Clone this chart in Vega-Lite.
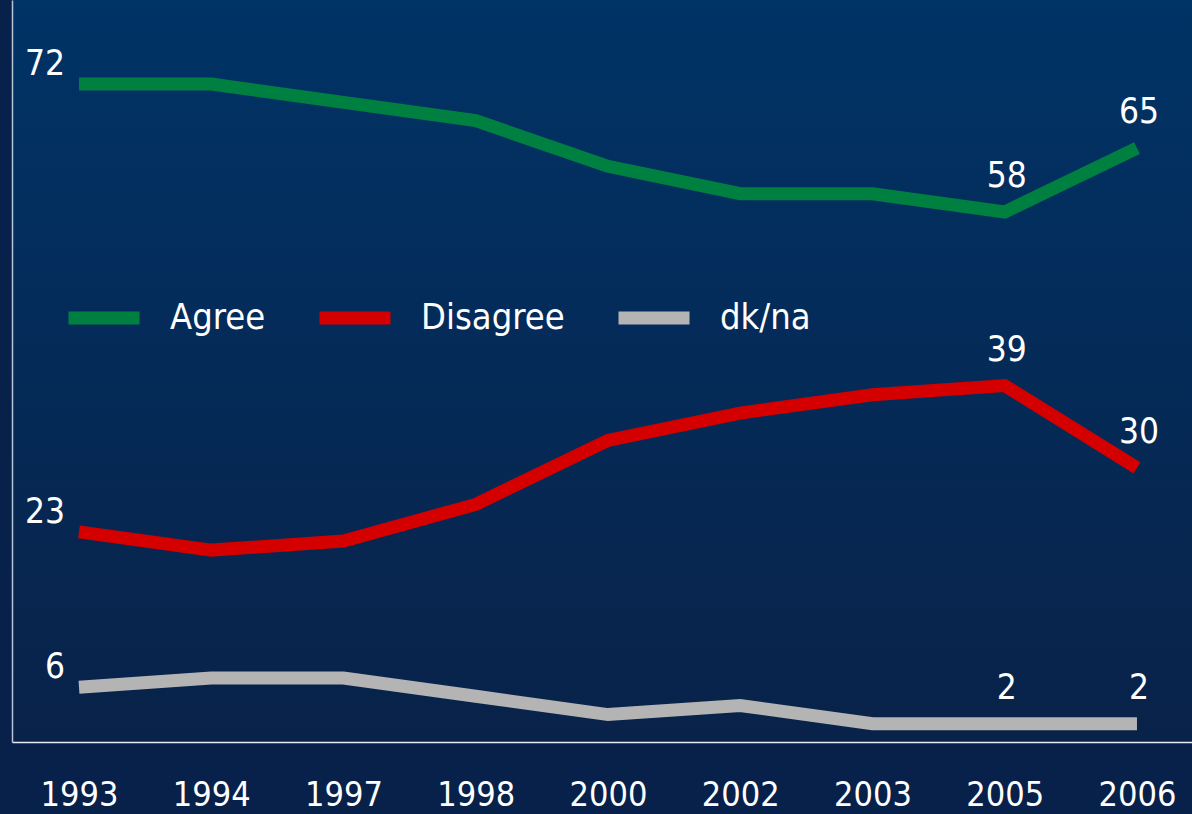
{
  "$schema": "https://vega.github.io/schema/vega-lite/v6.json",
  "width": 1180,
  "height": 742,
  "autosize": {"type": "none"},
  "padding": {"left": 12, "top": 0, "right": 0, "bottom": 72},
  "background": "#08214a",
  "config": {
    "view": {"fill": {"gradient": "linear", "x1": 0, "y1": 0, "x2": 0, "y2": 1, "stops": [{"offset": 0, "color": "#003366"}, {"offset": 1, "color": "#092249"}]}, "stroke": null},
    "font": "DejaVu Sans Condensed, sans-serif"
  },
  "data": {"values": [
    {"year": "1993", "series": "Agree", "value": 72, "label": "72"},
    {"year": "1994", "series": "Agree", "value": 72, "label": ""},
    {"year": "1997", "series": "Agree", "value": 70, "label": ""},
    {"year": "1998", "series": "Agree", "value": 68, "label": ""},
    {"year": "2000", "series": "Agree", "value": 63, "label": ""},
    {"year": "2002", "series": "Agree", "value": 60, "label": ""},
    {"year": "2003", "series": "Agree", "value": 60, "label": ""},
    {"year": "2005", "series": "Agree", "value": 58, "label": "58"},
    {"year": "2006", "series": "Agree", "value": 65, "label": "65"},
    {"year": "1993", "series": "Disagree", "value": 23, "label": "23"},
    {"year": "1994", "series": "Disagree", "value": 21, "label": ""},
    {"year": "1997", "series": "Disagree", "value": 22, "label": ""},
    {"year": "1998", "series": "Disagree", "value": 26, "label": ""},
    {"year": "2000", "series": "Disagree", "value": 33, "label": ""},
    {"year": "2002", "series": "Disagree", "value": 36, "label": ""},
    {"year": "2003", "series": "Disagree", "value": 38, "label": ""},
    {"year": "2005", "series": "Disagree", "value": 39, "label": "39"},
    {"year": "2006", "series": "Disagree", "value": 30, "label": "30"},
    {"year": "1993", "series": "dk/na", "value": 6, "label": "6"},
    {"year": "1994", "series": "dk/na", "value": 7, "label": ""},
    {"year": "1997", "series": "dk/na", "value": 7, "label": ""},
    {"year": "1998", "series": "dk/na", "value": 5, "label": ""},
    {"year": "2000", "series": "dk/na", "value": 3, "label": ""},
    {"year": "2002", "series": "dk/na", "value": 4, "label": ""},
    {"year": "2003", "series": "dk/na", "value": 2, "label": ""},
    {"year": "2005", "series": "dk/na", "value": 2, "label": "2"},
    {"year": "2006", "series": "dk/na", "value": 2, "label": "2"}
  ]},
  "encoding": {
    "x": {"field": "year", "type": "ordinal", "sort": null,
      "scale": {"type": "point", "padding": 0.4613, "align": 0.549},
      "axis": {"title": null, "domainColor": "#e8ecf4", "domainWidth": 1.5, "ticks": false, "grid": false,
        "labelColor": "#ffffff", "labelFontSize": 34, "labelPadding": 36, "labelAngle": 0,
        "labelFont": "DejaVu Sans Condensed, sans-serif"}},
    "y": {"field": "value", "type": "quantitative",
      "scale": {"domain": [0, 81.2], "nice": false},
      "axis": {"title": null, "labels": false, "ticks": false, "grid": false, "domainColor": "#b8c4d8", "domainWidth": 1.5}}
  },
  "layer": [
    {
      "mark": {"type": "line", "strokeWidth": 13, "strokeCap": "butt", "strokeJoin": "miter"},
      "encoding": {
        "color": {"field": "series", "type": "nominal",
          "scale": {"domain": ["Agree", "Disagree", "dk/na"], "range": ["#008040", "#d40000", "#b4b4b4"]},
          "legend": {"title": null, "orient": "none", "legendX": 50, "legendY": 276, "direction": "horizontal",
            "symbolType": "stroke", "symbolSize": 5041, "symbolStrokeWidth": 13, "labelOffset": 24, "columnPadding": 27, "labelLimit": 400,
            "labelFontSize": 36, "labelColor": "#ffffff", "labelFont": "DejaVu Sans Condensed, sans-serif", "padding": 0}}
      }
    },
    {
      "transform": [{"filter": "datum.year == '1993'"}],
      "mark": {"type": "text", "align": "right", "baseline": "middle", "dx": -14, "dy": -20, "fontSize": 35, "color": "#ffffff"},
      "encoding": {"text": {"field": "label"}}
    },
    {
      "transform": [{"filter": "datum.year == '2005' || datum.year == '2006'"}],
      "mark": {"type": "text", "align": "center", "baseline": "middle", "dx": 2, "dy": -36, "fontSize": 35, "color": "#ffffff"},
      "encoding": {"text": {"field": "label"}}
    }
  ]
}
